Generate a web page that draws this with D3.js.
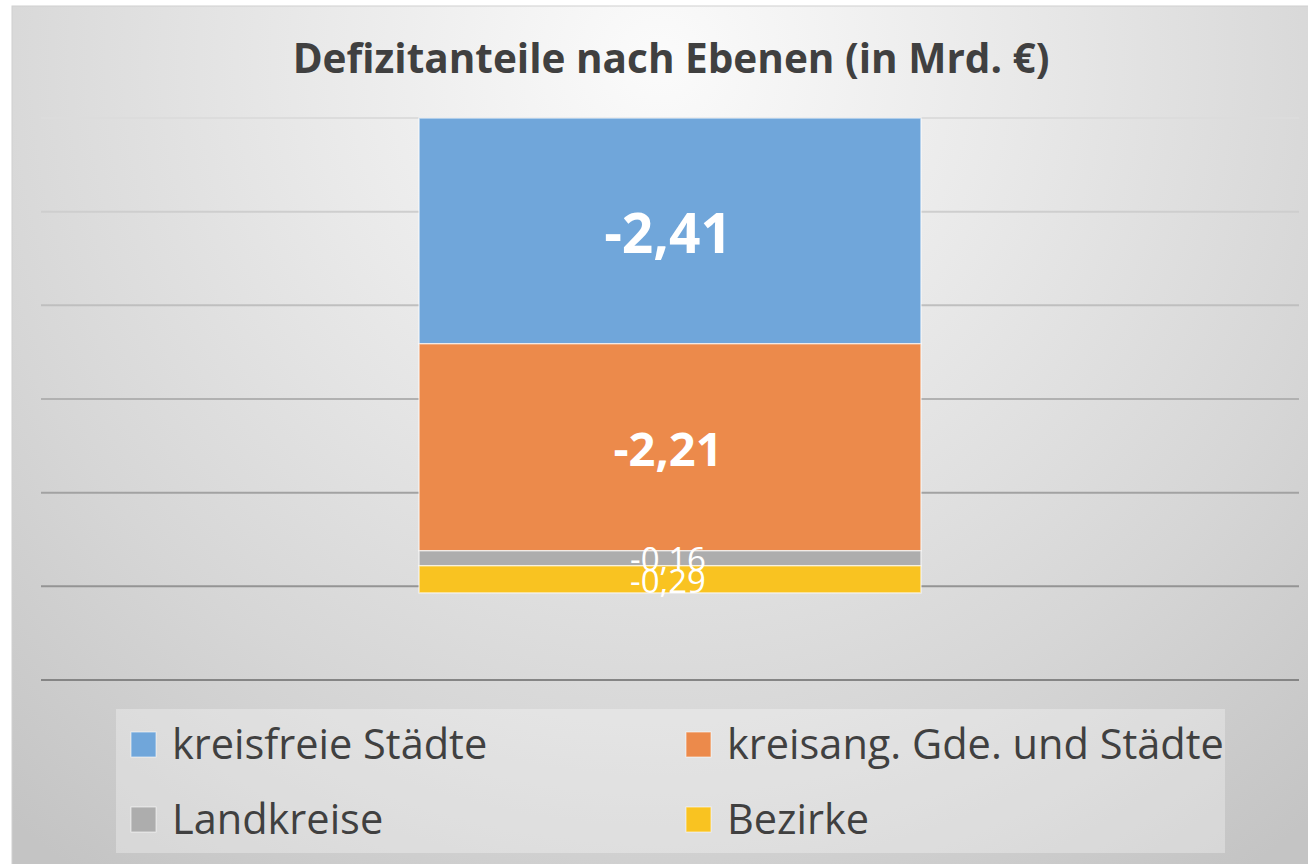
<!DOCTYPE html>
<html><head><meta charset="utf-8">
<script src="https://cdn.jsdelivr.net/npm/d3@7"></script>
<style>html,body{margin:0;padding:0;background:#fff;}svg{display:block;}</style>
</head><body>
<svg id="c" width="1308" height="864"></svg>
<script>
const title = "Defizitanteile nach Ebenen (in Mrd. €)";
const series = ["kreisfreie Städte", "kreisang. Gde. und Städte", "Landkreise", "Bezirke"];
const values = [-2.41, -2.21, -0.16, -0.29];
const labels = ["-2,41", "-2,21", "-0,16", "-0,29"];
const colors = ["#70a6da", "#ec8a4b", "#adadad", "#f9c321"];
const yTicks = [0, -1, -2, -3, -4, -5, -6];
const category = ["Defizit"];

const FONT = "'Open Sans', Lato, sans-serif";
const svg = d3.select("#c");
const defs = svg.append("defs");
const rg = defs.append("radialGradient").attr("id","bg")
  .attr("gradientUnits","userSpaceOnUse").attr("cx",660).attr("cy",60).attr("r",1000)
  .attr("fx",660).attr("fy",60);
rg.append("stop").attr("offset","0").attr("stop-color","#fbfbfb");
rg.append("stop").attr("offset","0.35").attr("stop-color","#e9e9e9");
rg.append("stop").attr("offset","0.7").attr("stop-color","#d6d6d6");
rg.append("stop").attr("offset","1").attr("stop-color","#c4c4c4");

svg.append("rect").attr("x",12).attr("y",6).attr("width",1300).attr("height",862)
  .attr("fill","url(#bg)").attr("stroke","#d0d0d0").attr("stroke-width",1);

svg.append("text").attr("x",671).attr("y",73).attr("text-anchor","middle")
  .attr("font-family",FONT).attr("font-weight","bold")
  .attr("font-size",40.5).attr("fill","#404040").text(title);

const y = d3.scaleLinear().domain([-6, 0]).range([680, 118]);
const x = d3.scaleBand().domain(category).range([41, 1299]).padding(0.4296);

const grid = svg.append("g");
grid.selectAll("line").data(yTicks).join("line")
  .attr("x1",41).attr("x2",1299)
  .attr("y1",d=>y(d)).attr("y2",d=>y(d))
  .attr("stroke",(d,i)=>d3.interpolateRgb("#dcdcdc","#858585")(i/6))
  .attr("stroke-width",2);

let acc = 0;
const segs = values.map((v,i)=>{ const s={y0:acc, y1:acc+v, i}; acc+=v; return s; });

svg.append("g").selectAll("rect").data(segs).join("rect")
  .attr("x", x("Defizit")).attr("width", x.bandwidth())
  .attr("y", d=>y(d.y0)).attr("height", d=>y(d.y1)-y(d.y0))
  .attr("fill", d=>colors[d.i])
  .attr("stroke","rgba(255,255,255,0.6)").attr("stroke-width",1.5);

const lblSize = [55, 47, 33, 33];
const lblWeight = ["bold","bold","normal","normal"];
svg.append("g").selectAll("text").data(segs).join("text")
  .attr("x", x("Defizit") + x.bandwidth()/2 - 2)
  .attr("y", d=>(y(d.y0)+y(d.y1))/2)
  .attr("dy","0.4em")
  .attr("text-anchor","middle")
  .attr("font-family",FONT)
  .attr("font-size", d=>lblSize[d.i]).attr("font-weight", d=>lblWeight[d.i])
  .attr("fill","#fff").text(d=>labels[d.i]);

svg.append("rect").attr("x",116).attr("y",709).attr("width",1109).attr("height",144)
  .attr("fill","rgba(255,255,255,0.3)");
const legPos = [[131,744],[686,744],[131,819],[686,819]];
const lg = svg.append("g").selectAll("g").data(series).join("g")
  .attr("transform",(d,i)=>`translate(${legPos[i][0]},${legPos[i][1]})`);
lg.append("rect").attr("x",0).attr("y",-12).attr("width",25).attr("height",25)
  .attr("fill",(d,i)=>colors[i]).attr("stroke","rgba(255,255,255,0.6)");
lg.append("text").attr("x",41).attr("y",0).attr("dy","0.36em")
  .attr("font-family",FONT).attr("font-size",41.5)
  .attr("fill","#404040").text(d=>d);
</script>
</body></html>
